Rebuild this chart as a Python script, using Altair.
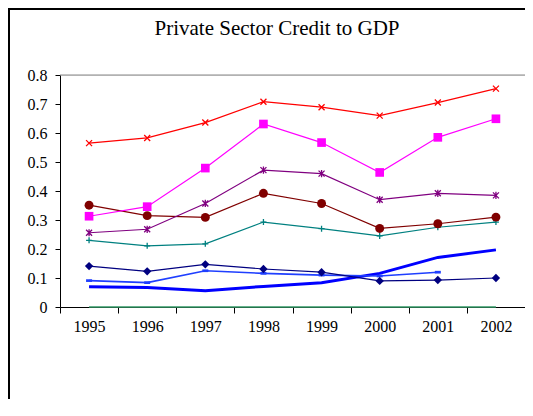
import altair as alt
import pandas as pd

title_text = "Private Sector Credit to GDP"
years = ["1995", "1996", "1997", "1998", "1999", "2000", "2001", "2002"]

red_x = [0.565, 0.583, 0.636, 0.708, 0.689, 0.660, 0.705, 0.753]
magenta_sq = [0.313, 0.346, 0.479, 0.631, 0.567, 0.464, 0.585, 0.649]
purple_ast = [0.256, 0.268, 0.357, 0.472, 0.460, 0.370, 0.392, 0.385]
brown_circ = [0.351, 0.315, 0.309, 0.392, 0.357, 0.271, 0.287, 0.310]
teal_plus = [0.230, 0.211, 0.218, 0.293, 0.270, 0.245, 0.275, 0.293]
navy_diam = [0.141, 0.123, 0.147, 0.131, 0.120, 0.090, 0.093, 0.100]
blue_thin = [0.091, 0.084, 0.125, 0.116, 0.110, 0.107, 0.120, None]
blue_thick = [0.070, 0.067, 0.056, 0.071, 0.084, 0.116, 0.171, 0.197]
green_zero = [0, 0, 0, 0, 0, 0, 0, 0]

X_PATH = "M-1,-1L1,1M-1,1L1,-1"
AST_PATH = "M-1,-1L1,1M-1,1L1,-1M0,-1.2L0,1.2"
PLUS_PATH = "M-1,0L1,0M0,-1L0,1"
DASH_PATH = "M-1,-0.45L1,-0.45L1,0.45L-1,0.45Z"

# (values, color, line width, marker shape, marker size, filled)
series = [
    (green_zero, "#339966", 1.5, None, 0, True),
    (blue_thick, "#0000FF", 3.0, None, 0, True),
    (blue_thin, "#1F3FFF", 1.6, DASH_PATH, 36, True),
    (navy_diam, "#000080", 1.2, "diamond", 70, True),
    (teal_plus, "#008080", 1.2, PLUS_PATH, 36, False),
    (brown_circ, "#800000", 1.2, "circle", 80, True),
    (purple_ast, "#800080", 1.2, AST_PATH, 36, False),
    (magenta_sq, "#FF00FF", 1.2, "square", 75, True),
    (red_x, "#FF0000", 1.2, X_PATH, 36, False),
]

font = "Liberation Serif"

x_enc = alt.X(
    "year:O",
    scale=alt.Scale(type="band", paddingInner=0, paddingOuter=0, domain=years),
    bandPosition=0.5,
    axis=alt.Axis(
        title=None, labelAngle=0, tickBand="extent", tickSize=6, tickColor="black",
        domainColor="black", labelFont=font, labelFontSize=16, labelColor="black",
        labelPadding=5, grid=False,
    ),
)
y_enc = alt.Y(
    "value:Q",
    scale=alt.Scale(domain=[0, 0.8], nice=False),
    axis=alt.Axis(
        title=None, values=[0, 0.1, 0.2, 0.3, 0.4, 0.5, 0.6, 0.7, 0.8], format=".1~f",
        tickSize=5, tickColor="black", domainColor="black", labelFont=font,
        labelFontSize=16, labelColor="black", labelPadding=8, grid=False,
    ),
)

one = alt.Data(values=[{"a": 1}])
layers = [
    # outer frame (left and top edges) and the plot area's top edge
    alt.Chart(one).mark_rule(color="black", strokeWidth=2).encode(
        x=alt.value(-51), y=alt.value(-67), y2=alt.value(345)
    ),
    alt.Chart(one).mark_rule(color="black", strokeWidth=2).encode(
        x=alt.value(-52), x2=alt.value(480), y=alt.value(-66)
    ),
    alt.Chart(one).mark_rule(color="#888888", strokeWidth=1).encode(
        x=alt.value(0), x2=alt.value(480), y=alt.value(0)
    ),
    alt.Chart(one).mark_text(
        text=title_text, font=font, fontSize=21, color="black",
        align="center", baseline="alphabetic",
    ).encode(x=alt.value(217), y=alt.value(-40)),
]

for vals, color, lw, shape, size, filled in series:
    df = pd.DataFrame(
        [{"year": y, "value": v} for y, v in zip(years, vals) if v is not None]
    )
    base = alt.Chart(df)
    layers.append(base.mark_line(color=color, strokeWidth=lw).encode(x=x_enc, y=y_enc))
    if shape is not None:
        layers.append(
            base.mark_point(
                shape=shape, size=size, filled=filled, color=color, opacity=1,
                strokeWidth=1.3,
            ).encode(x=x_enc, y=y_enc)
        )

chart = alt.layer(*layers).properties(
    width=465,
    height=232,
    autosize=alt.AutoSizeParams(type="none"),
    padding={"left": 52, "top": 67, "right": 0, "bottom": 92},
).configure_view(strokeWidth=0).configure(background="white")

chart.save("out.html", embed_options={"renderer": "svg", "actions": False})
